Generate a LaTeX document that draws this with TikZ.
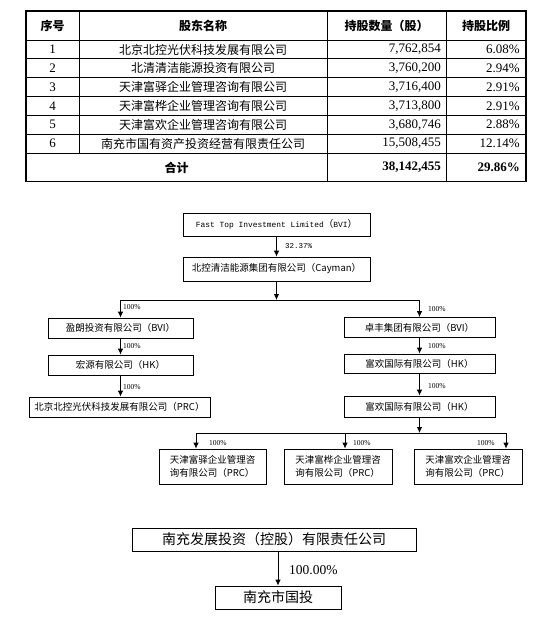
\documentclass[tikz,border=0pt]{standalone}
\usepackage{fontspec}
\setmainfont{Liberation Serif}
\newfontfamily\cjk{Noto Sans CJK SC}
\newfontfamily\monof{Liberation Mono}
\usetikzlibrary{arrows.meta}
\tikzset{
  tcell/.style={inner sep=0pt, font=\fontsize{12}{14}\selectfont\cjk},
  thead/.style={inner sep=0pt, font=\fontsize{12}{14}\selectfont\cjk\bfseries},
  tnum/.style={inner sep=0pt, anchor=east, font=\fontsize{13}{15}\selectfont},
  tnumb/.style={inner sep=0pt, anchor=east, font=\fontsize{13}{15}\selectfont\bfseries},
  outerline/.style={line width=1.5pt},
  innerline/.style={line width=0.7pt},
  box/.style={draw=black, line width=0.8pt, inner sep=0pt, font=\fontsize{9.5}{13}\selectfont\cjk},
  bigbox/.style={draw=black, line width=0.8pt, inner sep=0pt, font=\fontsize{14}{16}\selectfont\cjk},
  conn/.style={line width=0.8pt},
  arr/.style={-{Latex[length=6pt,width=5.5pt]}, line width=0.8pt},
  pct/.style={inner sep=0pt, font=\fontsize{7.5}{9}\selectfont},
}
\begin{document}
\begin{tikzpicture}[x=1pt,y=-1pt]
\useasboundingbox (0,0) rectangle (550,617);
\fill[white] (0,0) rectangle (550,617);
% ---------- table ----------
\draw[outerline] (26,11) rectangle (526,181.5);
\foreach \yy in {40,58.83,77.67,96.5,115.33,134.17,153}
  \draw[innerline] (26,\yy) -- (526,\yy);
\draw[innerline] (79,11) -- (79,153);
\draw[innerline] (327,11) -- (327,181.5);
\draw[innerline] (446,11) -- (446,181.5);
\node[thead] (h1) at (52.5,25.5) {序号};
\node[thead] (h2) at (203,25.5) {股东名称};
\node[thead] (h3) at (386.5,25.5) {持股数量（股）};
\node[thead] (h4) at (486,25.5) {持股比例};
\foreach \i/\nm/\num/\pc in {
  1/北京北控光伏科技发展有限公司/{7,762,854}/6.08\%,
  2/北清清洁能源投资有限公司/{3,760,200}/2.94\%,
  3/天津富驿企业管理咨询有限公司/{3,716,400}/2.91\%,
  4/天津富桦企业管理咨询有限公司/{3,713,800}/2.91\%,
  5/天津富欢企业管理咨询有限公司/{3,680,746}/2.88\%,
  6/南充市国有资产投资经营有限责任公司/{15,508,455}/12.14\%}{
  \pgfmathsetmacro{\yc}{40+18.83*(\i-0.5)}
  \node[inner sep=0pt, font=\fontsize{13}{15}\selectfont] (n\i) at (52.5,\yc) {\i};
  \node[tcell] (s\i) at (203,\yc) {\nm};
  \node[tnum] (q\i) at (441,\yc) {\num};
  \node[tnum] (p\i) at (520,\yc) {\pc};
}
\node[thead] (tot) at (176.5,167.5) {合计};
\node[tnumb] (totq) at (441,167.5) {38,142,455};
\node[tnumb] (totp) at (520,167.5) {29.86\%};
% ---------- structure chart ----------
\node[box, minimum width=187pt, minimum height=23pt] (ft) at (276.5,224.5)
  {{\monof\fontsize{7.9}{10}\selectfont Fast Top Investment Limited}（{\monof\fontsize{7.9}{10}\selectfont BVI}）};
\node[box, minimum width=187pt, minimum height=24pt] (bk) at (276.5,269)
  {北控清洁能源集团有限公司（Cayman）};
\draw[arr] (ft.south) -- (bk.north);
\node[pct, anchor=west, font=\monof\fontsize{7.5}{9}\selectfont] (l0) at (285,246.5) {32.37\%};
\coordinate (barL) at (120.5,300);
\coordinate (barR) at (419.5,300);
\draw[arr] (bk.south) -- (bk.south |- barL);
\draw[conn] (barL) -- (barR);
% left column
\node[box, minimum width=145pt, minimum height=20pt] (yl) at (120.5,328) {盈朗投资有限公司（BVI）};
\node[box, minimum width=145pt, minimum height=20pt] (hy) at (120.5,365) {宏源有限公司（HK）};
\node[box, minimum width=181pt, minimum height=20pt] (bj) at (119.5,407) {北京北控光伏科技发展有限公司（PRC）};
\draw[arr] (barL) -- (yl.north);
\draw[arr] (yl.south) -- (hy.north);
\draw[arr] (hy.south) -- (hy.south |- bj.north);
\node[pct, anchor=west] (l1) at (123,307.5) {100\%};
\node[pct, anchor=west] (l2) at (123,346.5) {100\%};
\node[pct, anchor=west] (l3) at (123,387) {100\%};
% right column
\node[box, minimum width=151pt, minimum height=20pt] (zf) at (419.5,327.5) {卓丰集团有限公司（BVI）};
\node[box, minimum width=151pt, minimum height=19pt] (fa) at (419.5,363.5) {富欢国际有限公司（HK）};
\node[box, minimum width=151pt, minimum height=21pt] (fb) at (419.5,406.5) {富欢国际有限公司（HK）};
\draw[arr] (barR) -- (zf.north);
\draw[arr] (zf.south) -- (fa.north);
\draw[arr] (fa.south) -- (fb.north);
\node[pct, anchor=west] (r1) at (428,309) {100\%};
\node[pct, anchor=west] (r2) at (428,346) {100\%};
\node[pct, anchor=west] (r3) at (428,386.5) {100\%};
% bottom level
\coordinate (bmid) at (419.5,433);
\coordinate (dA) at (196,433);
\coordinate (dB) at (345,433);
\coordinate (dC) at (506,433);
\draw[arr] (fb.south) -- (bmid);
\draw[conn] (dA) -- (dC);
\node[box, minimum width=107pt, minimum height=35pt, align=left] (tA) at (212.5,466.5)
  {天津富驿企业管理咨\\询有限公司（PRC）};
\node[box, minimum width=108pt, minimum height=35pt, align=left] (tB) at (338,466.5)
  {天津富桦企业管理咨\\询有限公司（PRC）};
\node[box, minimum width=108pt, minimum height=35pt, align=left] (tC) at (468,466.5)
  {天津富欢企业管理咨\\询有限公司（PRC）};
\draw[arr] (dA) -- (dA |- tA.north);
\draw[arr] (dB) -- (dB |- tB.north);
\draw[arr] (dC) -- (dC |- tC.north);
\node[pct, anchor=west] (b1) at (209,443) {100\%};
\node[pct, anchor=west] (b2) at (353,443) {100\%};
\node[pct, anchor=west] (b3) at (477,443) {100\%};
% ---------- lower chart ----------
\node[bigbox, minimum width=284pt, minimum height=23pt] (nc) at (274,539.5) {南充发展投资（控股）有限责任公司};
\node[bigbox, minimum width=126pt, minimum height=23pt] (ng) at (278,597.5) {南充市国投};
\draw[arr] (ng.north |- nc.south) -- (ng.north);
\node[inner sep=0pt, anchor=west, font=\fontsize{13.5}{15}\selectfont] (lp) at (289,570) {100.00\%};
\end{tikzpicture}
\end{document}
